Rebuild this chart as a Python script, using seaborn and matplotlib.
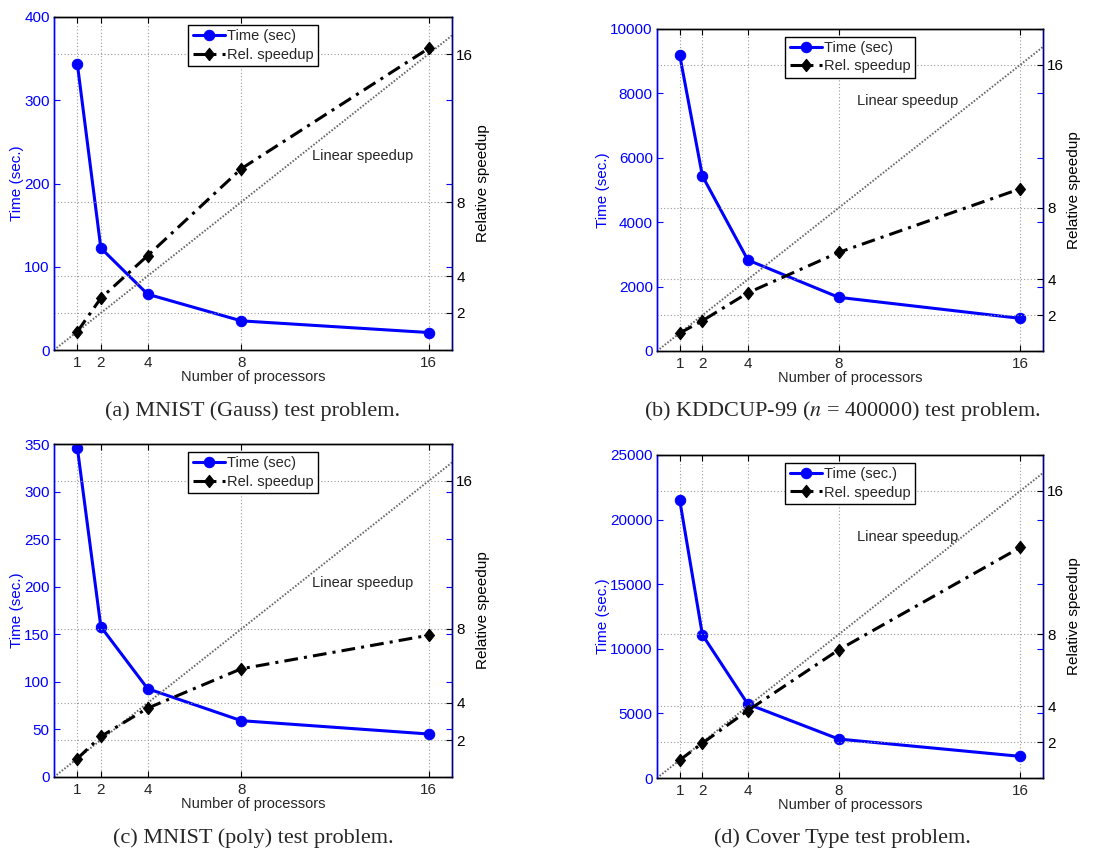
import matplotlib
matplotlib.use("Agg")
import matplotlib.pyplot as plt
import seaborn as sns
import numpy as np

# ---------------- data ----------------
processors = [1, 2, 4, 8, 16]

time_mnist_gauss = [343, 122.5, 67, 35, 21]
speedup_mnist_gauss = [1.0, 2.8, 5.1, 9.8, 16.3]

time_kddcup = [9190, 5435, 2826, 1667, 1014]
speedup_kddcup = [1.0, 1.69, 3.25, 5.51, 9.07]

time_mnist_poly = [345.5, 158, 92.8, 59.2, 45.2]
speedup_mnist_poly = [1.0, 2.19, 3.72, 5.85, 7.66]

time_covtype = [21520, 11080, 5720, 3015, 1675]
speedup_covtype = [1.0, 1.94, 3.76, 7.14, 12.85]

x_ticks = [1, 2, 4, 8, 16]
speedup_ticks = [2, 4, 8, 16]
time_ticks_a = [0, 100, 200, 300, 400]
time_ticks_b = [0, 2000, 4000, 6000, 8000, 10000]
time_ticks_c = [0, 50, 100, 150, 200, 250, 300, 350]
time_ticks_d = [0, 5000, 10000, 15000, 20000, 25000]

captions = ["(a) MNIST (Gauss) test problem.",
            "(b) KDDCUP-99 ($n$ = 400000) test problem.",
            "(c) MNIST (poly) test problem.",
            "(d) Cover Type test problem."]
time_labels = ["Time (sec)", "Time (sec)", "Time (sec)", "Time (sec.)"]

# ---------------- style ----------------
sns.set_style("ticks")
plt.rcParams['font.family'] = ['Liberation Sans', 'DejaVu Sans']
plt.rcParams['mathtext.fontset'] = 'stix'

W, H = 1109, 852
fig = plt.figure(figsize=(W / 100, H / 100), dpi=100)

# axes boxes in pixels: left, right, top, bottom
boxes = [(54, 452, 17, 350), (657, 1043, 29, 351),
         (54, 452, 444, 777), (657, 1043, 455, 778)]
caption_pos = [(253, 411), (842, 411), (253, 838), (842, 838)]
text_pos = [(11.0, 10.5), (8.8, 13.97), (11.0, 10.5), (8.8, 13.43)]

panels = [
    (time_mnist_gauss, speedup_mnist_gauss, time_ticks_a),
    (time_kddcup, speedup_kddcup, time_ticks_b),
    (time_mnist_poly, speedup_mnist_poly, time_ticks_c),
    (time_covtype, speedup_covtype, time_ticks_d),
]

diamond = [(0, -1), (0.8, 0), (0, 1), (-0.8, 0), (0, -1)]
BLUE = '#0000ff'
FS = 10.5

for i, (times, speedups, tticks) in enumerate(panels):
    l, r, t, b = boxes[i]
    ax = fig.add_axes([l / W, (H - b) / H, (r - l) / W, (b - t) / H])
    ax2 = ax.twinx()

    # linear speedup reference (under everything)
    ax2.axline((0, 0), slope=1, color='#666666', linestyle=(0, (0.8, 0.9)),
               linewidth=1.4, zorder=1)

    sns.lineplot(x=processors, y=times, ax=ax, color=BLUE, marker='o',
                 markersize=7.5, linewidth=2.2, markeredgecolor=BLUE,
                 legend=False, zorder=3)
    sns.lineplot(x=processors, y=speedups, ax=ax2, color='black',
                 marker=diamond, markersize=9, linewidth=2.2,
                 linestyle=(0, (4.5, 2.0, 1.0, 2.0)), markeredgecolor='black',
                 legend=False, zorder=3)

    ax.set_xlim(0, 17)
    ax.set_ylim(tticks[0], tticks[-1])
    ax2.set_ylim(0, 18)
    ax.set_xticks(x_ticks)
    ax.set_xticklabels([str(v) for v in x_ticks], fontsize=FS + 0.5)
    ax.set_yticks(tticks)
    ax.set_yticklabels([str(v) for v in tticks], fontsize=FS + 0.5, color=BLUE)
    ax2.set_yticks(speedup_ticks)
    ax2.set_yticklabels([str(v) for v in speedup_ticks], fontsize=FS + 0.5)

    # grid: vertical at x ticks, horizontal at right ticks
    ax.grid(False)
    ax2.grid(False)
    for xv in x_ticks:
        ax.axvline(xv, color='#999999', linestyle=(0, (1, 2)), linewidth=0.8, zorder=0)
    for yv in speedup_ticks:
        ax2.axhline(yv, color='#999999', linestyle=(0, (1, 2)), linewidth=0.8, zorder=0)

    ax.tick_params(axis='x', direction='in', top=True, length=4, color='black', pad=4)
    ax.tick_params(axis='y', direction='in', left=True, right=True, length=4,
                   color=BLUE, labelcolor=BLUE, pad=3)
    ax2.tick_params(axis='y', direction='in', right=True, left=False, length=4,
                    color='black', labelcolor='black', pad=3)

    for s in ['top', 'bottom']:
        ax.spines[s].set_color('black')
        ax2.spines[s].set_color('black')
    ax.spines['left'].set_color(BLUE)
    ax2.spines['left'].set_color(BLUE)
    ax2.spines['right'].set_color('#000080')
    ax.spines['right'].set_color('#000080')
    for sp in list(ax.spines.values()) + list(ax2.spines.values()):
        sp.set_linewidth(1.0)
        sp.set_visible(True)

    ax.set_xlabel("Number of processors", fontsize=FS, labelpad=0)
    ax.set_ylabel("Time (sec.)", fontsize=FS + 0.5, color=BLUE, labelpad=0)
    ax2.set_ylabel("Relative speedup", fontsize=FS + 0.5, color='black', labelpad=2)

    ax2.text(text_pos[i][0], text_pos[i][1], "Linear speedup", fontsize=FS,
             ha='left', va='center', zorder=4)

    h1 = ax.lines[0]
    h2 = ax2.lines[1]
    leg = ax2.legend([h1, h2], [time_labels[i], "Rel. speedup"], loc='upper center',
                     bbox_to_anchor=(0.5, 0.985), fontsize=FS, frameon=True,
                     fancybox=False, edgecolor='black', framealpha=1,
                     handlelength=2.2, handletextpad=0.15, borderpad=0.3,
                     labelspacing=0.3, borderaxespad=0.2)
    leg.get_frame().set_linewidth(1.0)
    leg.set_zorder(10)

    ax.set_zorder(ax2.get_zorder() - 1)
    ax2.patch.set_visible(False)

    cx, cy = caption_pos[i]
    fig.text(cx / W, 1 - cy / H, captions[i], ha='center', va='center',
             fontsize=16, family=['Liberation Serif', 'DejaVu Serif'])

fig.savefig("out.png", dpi=100)
